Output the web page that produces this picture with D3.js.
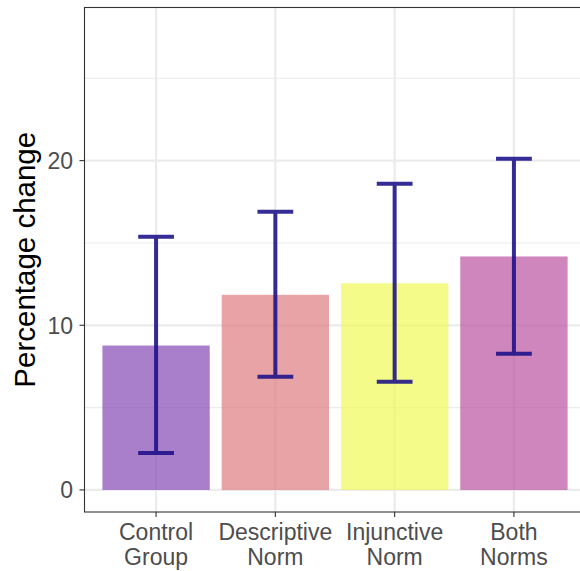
<!DOCTYPE html>
<html><head><meta charset="utf-8">
<script src="https://cdn.jsdelivr.net/npm/d3@7"></script>
<style>body{margin:0;background:#fff}svg{display:block}text{font-family:"Liberation Sans",Arial,sans-serif}</style>
</head><body><svg id="c" width="580" height="571"></svg>
<script>
const categories = ["Control\nGroup","Descriptive\nNorm","Injunctive\nNorm","Both\nNorms"];
const means = [8.77, 11.85, 12.55, 14.18];
const lower = [2.25, 6.87, 6.57, 8.27];
const upper = [15.38, 16.9, 18.6, 20.12];
const colors = ["#8448b5","#de7c80","#f0fa55","#bb52a0"];
const yTicks = [0,10,20];
const yMinor = [5,15,25];

const svg = d3.select("#c");
const L = 84.5, T = 7.5, B = 512, R = 585.5;
const x = d3.scaleBand().domain(categories).range([L, R]).paddingInner(0).paddingOuter(0.1);
const y = d3.scaleLinear().domain([-1.34, 29.3]).range([B, T]);
const bw = x.bandwidth();
const cx = d => x(d) + bw/2;

// grid
const g = svg.append("g");
g.selectAll(".mn").data(yMinor).join("line").attr("x1",L).attr("x2",R).attr("y1",d=>y(d)).attr("y2",d=>y(d)).attr("stroke","#ebebeb").attr("stroke-width",1.1);
g.selectAll(".mj").data(yTicks).join("line").attr("x1",L).attr("x2",R).attr("y1",d=>y(d)).attr("y2",d=>y(d)).attr("stroke","#ebebeb").attr("stroke-width",2.2);
g.selectAll(".vx").data(categories).join("line").attr("x1",cx).attr("x2",cx).attr("y1",T).attr("y2",B).attr("stroke","#ebebeb").attr("stroke-width",2.2);

// bars
svg.selectAll(".bar").data(categories).join("rect")
  .attr("x", d => cx(d) - bw*0.45).attr("width", bw*0.9)
  .attr("y", (d,i) => y(means[i])).attr("height", (d,i) => y(0) - y(means[i]))
  .attr("fill", (d,i) => colors[i]).attr("fill-opacity", 0.7);

// error bars
const eb = svg.append("g").attr("stroke","#1a0f88").attr("stroke-opacity",0.88).attr("stroke-width",4).attr("fill","none");
categories.forEach((d,i) => {
  const c = cx(d), w = bw*0.15;
  eb.append("path").attr("d", `M${c-w},${y(upper[i])}H${c+w}M${c},${y(upper[i])}V${y(lower[i])}M${c-w},${y(lower[i])}H${c+w}`);
});

// border
svg.append("rect").attr("x",L).attr("y",T).attr("width",R-L).attr("height",B-T).attr("fill","none").attr("stroke","#333333").attr("stroke-width",1.1);

// y axis
const ya = svg.append("g");
ya.selectAll("line").data(yTicks).join("line").attr("x1",L-5).attr("x2",L).attr("y1",d=>y(d)).attr("y2",d=>y(d)).attr("stroke","#333").attr("stroke-width",1.1);
ya.selectAll("text").data(yTicks).join("text").attr("x",L-11.5).attr("y",d=>y(d)).attr("dy","0.36em").attr("text-anchor","end").attr("font-size",23).attr("fill","#4d4d4d").text(d=>d);

// x axis
const xa = svg.append("g");
xa.selectAll("line").data(categories).join("line").attr("x1",cx).attr("x2",cx).attr("y1",B).attr("y2",B+5).attr("stroke","#333").attr("stroke-width",1.1);
const xt = xa.selectAll("text").data(categories).join("text").attr("x",cx).attr("y",540).attr("text-anchor","middle").attr("font-size",23).attr("fill","#4d4d4d");
xt.each(function(d){
  const t = d3.select(this);
  d.split("\n").forEach((s,k) => t.append("tspan").attr("x", cx(d)).attr("dy", k===0?0:24.8).text(s));
});

// y title
svg.append("text").attr("transform",`translate(35,${(T+B)/2}) rotate(-90)`).attr("text-anchor","middle").attr("font-size",29.5).attr("fill","#000").text("Percentage change");
</script></body></html>
